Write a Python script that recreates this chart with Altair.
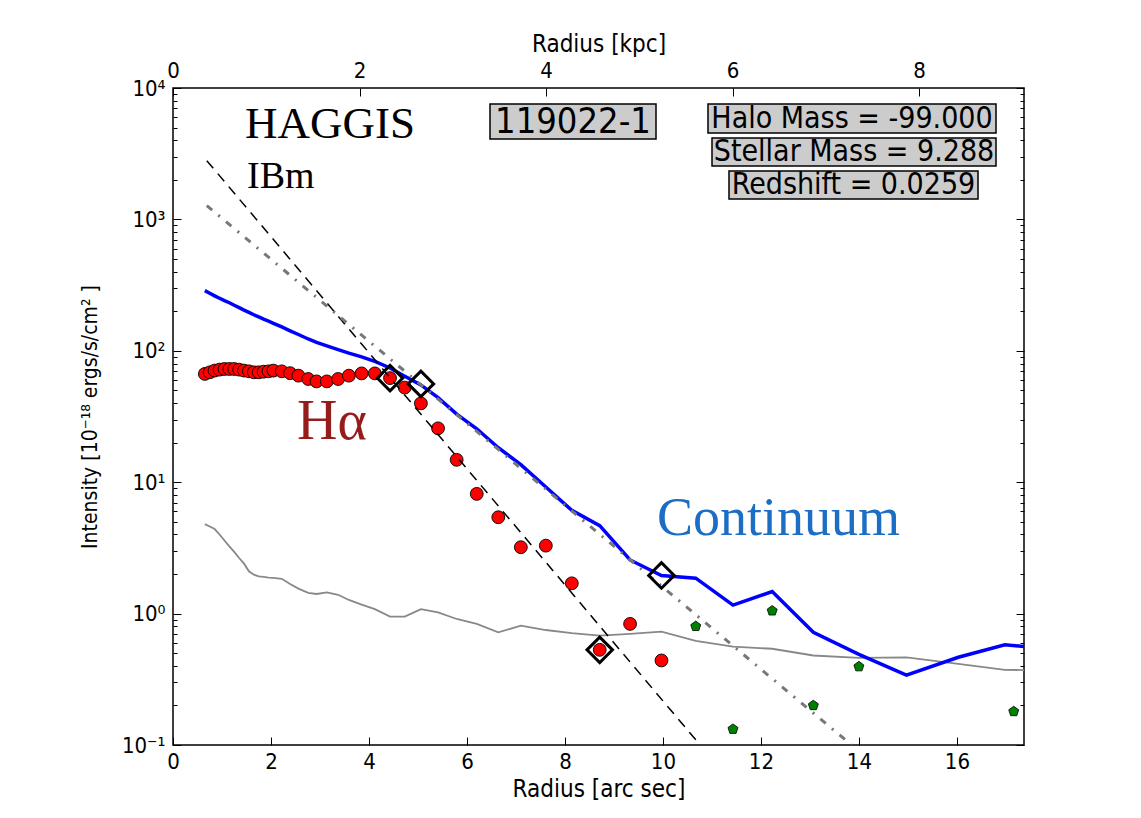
import altair as alt
import pandas as pd

# ---------------- data ----------------
radius = [0.65, 0.75, 0.85, 0.95, 1.05, 1.15, 1.25, 1.35, 1.45, 1.55, 1.65, 1.75, 1.85, 1.95, 2.05,
          2.22, 2.39, 2.56, 2.76, 2.93, 3.14, 3.37, 3.59, 3.85, 4.12, 4.43, 4.73, 5.06, 5.41, 5.79,
          6.20, 6.64, 7.10, 7.61, 8.14, 8.71, 9.33, 9.97, 10.67, 11.43, 12.23, 13.07, 14.00, 14.97,
          16.03, 16.98, 18.10]

continuum = [287, 274, 262, 251, 241, 232, 222, 213, 204, 196, 188, 181, 174, 168, 162,
             152, 142, 133, 123, 116, 109, 102, 96, 90, 83, 74, 64, 55, 44, 33,
             25.5, 18.3, 13.6, 9.2, 6.1, 4.67, 2.56, 1.95, 1.86, 1.16, 1.47, 0.72, 0.49, 0.34,
             0.465, 0.58, 0.53]

background = [4.8, 4.6, 4.4, 4.0, 3.6, 3.25, 2.95, 2.65, 2.4, 2.1, 1.98, 1.92, 1.9, 1.88, 1.87,
              1.84, 1.68, 1.55, 1.44, 1.41, 1.45, 1.39, 1.27, 1.17, 1.08, 0.95, 0.95, 1.08, 1.02, 0.91,
              0.835, 0.72, 0.81, 0.75, 0.71, 0.68, 0.70, 0.73, 0.62, 0.56, 0.54, 0.48, 0.46, 0.465,
              0.414, 0.373, 0.37]

halpha = [66.7, 68.6, 70.7, 71.9, 72.7, 72.7, 72.7, 71.9, 70.7, 69.8, 68.6, 68.6, 69.3, 69.8, 70.7,
          69.8, 67.6, 64.7, 61.0, 58.5, 58.5, 61.0, 64.7, 67.3, 67.3, 62.0, 52.5, 39.8, 25.7, 14.8,
          8.15, 5.41, 3.20, 3.29, 1.70, 0.53, 0.835, 0.44]

green_r = [10.67, 11.43, 12.23, 13.07, 14.00, 17.16]
green_v = [0.80, 0.132, 1.05, 0.20, 0.395, 0.18]

diamond_r = [4.43, 5.06, 8.71, 9.97]
diamond_v = [62.0, 56.0, 0.53, 1.95]

fit_ha_r = [0.69, 10.76]
fit_ha_v = [2800, 0.1]
fit_cont_r = [0.69, 13.85]
fit_cont_v = [1274, 0.1]

x_ticks = [0, 2, 4, 6, 8, 10, 12, 14, 16]
kpc_ticks_arcsec = [0, 3.807, 7.614, 11.421, 15.228]
y_major = [0.1, 1, 10, 100, 1000, 10000]
y_minor = [0.2, 0.3, 0.4, 0.5, 0.6, 0.7, 0.8, 0.9,
           2, 3, 4, 5, 6, 7, 8, 9,
           20, 30, 40, 50, 60, 70, 80, 90,
           200, 300, 400, 500, 600, 700, 800, 900,
           2000, 3000, 4000, 5000, 6000, 7000, 8000, 9000]

# ---------------- tables ----------------
df_main = pd.DataFrame({"r": radius, "cont": continuum, "bg": background})
df_ha = pd.DataFrame({"r": radius[:len(halpha)], "ha": halpha})
df_green = pd.DataFrame({"r": green_r, "v": green_v})
df_diam = pd.DataFrame({"r": diamond_r, "v": diamond_v})
df_fit1 = pd.DataFrame({"r": fit_ha_r, "v": fit_ha_v})
df_fit2 = pd.DataFrame({"r": fit_cont_r, "v": fit_cont_v})
one = pd.DataFrame({"k": [0]})

SANS = "DejaVu Sans Condensed, DejaVu Sans"
SERIF = "Liberation Serif"
W, H = 851, 657

XS = alt.Scale(domain=[0, 17.37], nice=False, zero=False)
YS = alt.Scale(type="log", domain=[0.1, 10000], nice=False)

ylab = ("datum.value >= 5000 ? '10\u2074' : datum.value >= 500 ? '10\u00b3' : "
        "datum.value >= 50 ? '10\u00b2' : datum.value >= 5 ? '10\u00b9' : "
        "datum.value >= 0.5 ? '10\u2070' : '10\u207b\u00b9'")

ax_bottom = alt.Axis(orient="bottom", values=x_ticks, format="d", ticks=False, tickSize=0,
                     domain=False, grid=False, labelFont=SANS, labelFontSize=22, labelPadding=6,
                     labelFlush=False, labelOverlap=False,
                     labelColor="black", title="Radius [arc sec]", titleFont=SANS, titleFontSize=24,
                     titleFontWeight="normal", titleColor="black", titleX=W / 2, titleY=44,
                     titleBaseline="middle", titleAlign="center")
ax_bottom_t = alt.Axis(orient="bottom", values=x_ticks, labels=False, ticks=True, tickSize=8,
                       tickWidth=1, tickColor="black", domain=False, grid=False, offset=-8, title=None)
ax_top = alt.Axis(orient="top", values=kpc_ticks_arcsec, labelExpr="format(datum.value/1.9035, '.0f')",
                  ticks=False, tickSize=0, domain=False, grid=False, labelFont=SANS, labelFontSize=22,
                  labelPadding=6, labelFlush=False, labelOverlap=False,
                  labelColor="black", title="Radius [kpc]", titleFont=SANS,
                  titleFontSize=24, titleFontWeight="normal", titleColor="black", titleX=W / 2,
                  titleY=-44, titleBaseline="middle", titleAlign="center")
ax_top_t = alt.Axis(orient="top", values=kpc_ticks_arcsec, labels=False, ticks=True, tickSize=8,
                    tickWidth=1, tickColor="black", domain=False, grid=False, offset=-8, title=None)
ax_left = alt.Axis(orient="left", values=y_major, labelExpr=ylab, ticks=False, tickSize=0,
                   domain=False, grid=False, labelFont=SANS, labelFontSize=22, labelPadding=8,
                   labelFlush=False, labelOverlap=False,
                   labelColor="black", title="Intensity [10\u207b\u00b9\u2078 ergs/s/cm\u00b2 ]",
                   titleFont=SANS, titleFontSize=21, titleFontWeight="normal", titleColor="black",
                   titleX=-83, titleY=H / 2, titleAngle=270, titleBaseline="middle", titleAlign="center")
ax_left_M = alt.Axis(orient="left", values=y_major, labels=False, ticks=True, tickSize=8, tickWidth=1,
                     tickColor="black", domain=False, grid=False, offset=-8, title=None)
ax_left_m = alt.Axis(orient="left", values=y_minor, labels=False, ticks=True, tickSize=4, tickWidth=1,
                     tickColor="black", domain=False, grid=False, offset=-4, title=None)
ax_right_M = alt.Axis(orient="right", values=y_major, labels=False, ticks=True, tickSize=8, tickWidth=1,
                      tickColor="black", domain=False, grid=False, offset=-8, title=None)
ax_right_m = alt.Axis(orient="right", values=y_minor, labels=False, ticks=True, tickSize=4, tickWidth=1,
                      tickColor="black", domain=False, grid=False, offset=-4, title=None)

# ---------------- layers ----------------
gray = alt.Chart(df_main).mark_line(color="#888888", strokeWidth=1.8, clip=True).encode(
    x=alt.X("r:Q", scale=XS, axis=ax_bottom), y=alt.Y("bg:Q", scale=YS, axis=ax_left))

blue = alt.Chart(df_main).mark_line(color="#0000ff", strokeWidth=3.5, clip=True).encode(
    x=alt.X("r:Q", scale=XS, axis=ax_bottom_t), y=alt.Y("cont:Q", scale=YS, axis=ax_left_M))

circles = alt.Chart(df_ha).mark_point(shape="circle", filled=True, fill="#ff0000", stroke="black",
                                      strokeWidth=0.9, size=165, opacity=1).encode(
    x=alt.X("r:Q", scale=XS, axis=ax_top), y=alt.Y("ha:Q", scale=YS, axis=ax_left_m))

PENT = "M0,-1L0.951,-0.309L0.588,0.809L-0.588,0.809L-0.951,-0.309Z"
pents = alt.Chart(df_green).mark_point(shape=PENT, filled=True, fill="#008000", stroke="black",
                                       strokeWidth=0.8, size=110, opacity=1).encode(
    x=alt.X("r:Q", scale=XS, axis=ax_top_t), y=alt.Y("v:Q", scale=YS, axis=ax_right_M))

fit1 = alt.Chart(df_fit1).mark_line(color="black", strokeWidth=1.5, strokeDash=[10, 7], clip=True).encode(
    x=alt.X("r:Q", scale=XS, axis=None), y=alt.Y("v:Q", scale=YS, axis=ax_right_m))

fit2 = alt.Chart(df_fit2).mark_line(color="#777777", strokeWidth=3, strokeDash=[7, 8, 2, 8], clip=True).encode(
    x=alt.X("r:Q", scale=XS, axis=None), y=alt.Y("v:Q", scale=YS, axis=None))

diam = alt.Chart(df_diam).mark_point(shape="diamond", filled=False, stroke="black", strokeWidth=3,
                                     size=650, opacity=1).encode(
    x=alt.X("r:Q", scale=XS, axis=None), y=alt.Y("v:Q", scale=YS, axis=None))


def label(text, x, y, font, size, color="black", align="left", baseline="alphabetic", style="normal"):
    return alt.Chart(one).mark_text(text=text, font=font, fontSize=size, color=color, align=align,
                                    baseline=baseline, fontStyle=style).encode(
        x=alt.value(x), y=alt.value(y))


def box(x1, x2, y1, y2):
    return alt.Chart(one).mark_rect(fill="#cccccc", stroke="black", strokeWidth=1.5).encode(
        x=alt.value(x1), x2=alt.value(x2), y=alt.value(y1), y2=alt.value(y2))


texts = [
    label("HAGGIS", 72, 50, SERIF, 45),
    label("IBm", 74, 100, SERIF, 38),
    label("H\u03b1", 124, 351, SERIF, 56, color="#961c1c"),
    label("Continuum", 484, 447, SERIF, 54, color="#1b6ec4"),
    box(317, 483, 16, 51),
    label("119022-1", 400, 34, SANS, 36, align="center", baseline="middle"),
    box(535, 823, 16, 45),
    label("Halo Mass = -99.000", 679, 31, SANS, 30, align="center", baseline="middle"),
    box(539, 823, 50, 78),
    label("Stellar Mass = 9.288", 681, 64, SANS, 30, align="center", baseline="middle"),
    box(556, 805, 83, 111),
    label("Redshift = 0.0259", 680.5, 97, SANS, 30, align="center", baseline="middle"),
]

chart = alt.layer(gray, blue, circles, pents, fit1, fit2, diam, *texts).resolve_axis(
    x="independent", y="independent"
).properties(
    width=W, height=H,
    autosize=alt.AutoSizeParams(type="none"),
    padding={"left": 165, "top": 80, "right": 100, "bottom": 60},
    background="white",
).configure_view(stroke="black", strokeWidth=1.5)

chart.save("out.html", embed_options={"renderer": "svg", "actions": False})
